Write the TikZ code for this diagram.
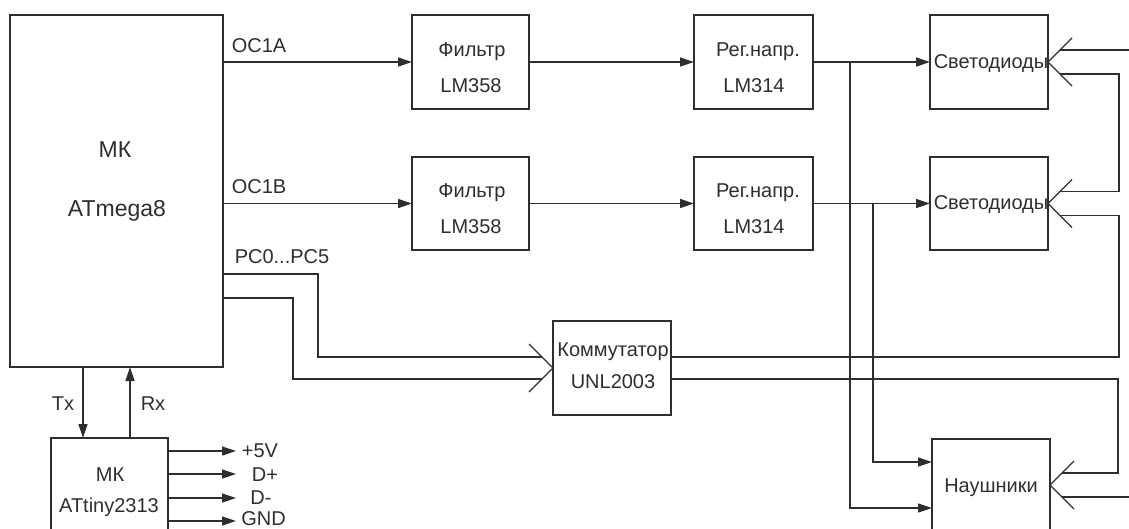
\documentclass[tikz,border=0pt]{standalone}
\usepackage{fontspec}
\setmainfont{Liberation Sans}
\usetikzlibrary{arrows.meta,calc}
\definecolor{ink}{HTML}{2E2E2E}
\begin{document}
\begin{tikzpicture}[x=1pt,y=-1pt,
  line width=1.3pt, draw=ink, text=ink,
  every node/.style={inner sep=0pt, outer sep=0pt},
  blk/.style={draw=ink, rectangle, line width=1.3pt},
  txt/.style={anchor=base, font=\fontsize{20}{24}\selectfont},
  bigtxt/.style={anchor=base, font=\fontsize{23}{27}\selectfont},
  arr/.style={-{Triangle[length=14pt,width=9pt]}}]
\useasboundingbox (0,0) rectangle (1129,528);
\clip (0,0) rectangle (1129,528);

% blocks
\node[blk, minimum width=213pt, minimum height=352pt] (mk) at (116.5,191) {};
\node[blk, minimum width=117pt, minimum height=94pt] (f1) at (470.5,62) {};
\node[blk, minimum width=117pt, minimum height=93pt] (f2) at (470.5,203.5) {};
\node[blk, minimum width=119pt, minimum height=94pt] (r1) at (753.5,62) {};
\node[blk, minimum width=119pt, minimum height=93pt] (r2) at (753.5,203.5) {};
\node[blk, minimum width=118pt, minimum height=94pt] (s1) at (989,62) {};
\node[blk, minimum width=118pt, minimum height=93pt] (s2) at (989,203.5) {};
\node[blk, minimum width=118pt, minimum height=94pt] (km) at (612,368) {};
\node[blk, minimum width=118pt, minimum height=92pt] (hp) at (991,485) {};
\node[blk, minimum width=117pt, minimum height=92pt] (at) at (109.5,484) {};

% texts
\node[bigtxt] (tmk1) at (115,157) {МК};
\node[bigtxt] (tmk2) at (117,216) {ATmega8};
\node[txt] (toca) at (259,52) {OC1A};
\node[txt] (tocb) at (259,193) {OC1B};
\node[txt] (tpc) at (282,263) {PC0...PC5};
\node[txt] (tf1a) at (472,56) {Фильтр};
\node[txt] (tf1b) at (471,92) {LM358};
\node[txt] (tf2a) at (472,197.5) {Фильтр};
\node[txt] (tf2b) at (471,233) {LM358};
\node[txt] (tr1a) at (758,56) {Рег.напр.};
\node[txt] (tr1b) at (754,92) {LM314};
\node[txt] (tr2a) at (758,197.5) {Рег.напр.};
\node[txt] (tr2b) at (754,233) {LM314};
\node[txt] (ts1) at (991,68) {Светодиоды};
\node[txt] (ts2) at (991,209) {Светодиоды};
\node[txt] (tkm1) at (613,356) {Коммутатор};
\node[txt] (tkm2) at (613,388) {UNL2003};
\node[txt] (thp) at (991,492) {Наушники};
\node[txt] (ttx) at (63,410) {Tx};
\node[txt] (trx) at (153,410) {Rx};
\node[txt] (tat1) at (110,481) {МК};
\node[txt] (tat2) at (109,512) {ATtiny2313};
\node[txt] (t5v) at (260,457) {+5V};
\node[txt] (tdp) at (265,481) {D+};
\node[txt] (tdm) at (261,504) {D-};
\node[txt] (tgnd) at (263.5,525) {GND};

% main signal chains
\draw[arr] (mk.east |- f1.west) -- (f1.west);
\draw[arr] (f1.east) -- (r1.west);
\draw[arr] (r1.east) -- (s1.west);
\draw[arr] (mk.east |- f2.west) -- (f2.west);
\draw[arr] (f2.east) -- (r2.west);
\draw[arr] (r2.east) -- (s2.west);

% branches to headphones
\coordinate (b1) at (850,62);
\coordinate (b2) at (873,203.5);
\draw[arr] (b1) |- ($(hp.west)+(0,23)$);
\draw[arr] (b2) |- ($(hp.west)+(0,-23)$);

% MK -> commutator
\coordinate (p1) at (mk.east |- 0,274);
\coordinate (p2) at (mk.east |- 0,298);
\draw (p1) -| (318,357) -- ($(km.west)+(-11,-11)$);
\draw (p2) -| (293,379) -- ($(km.west)+(-11,11)$);
\draw ($(km.west)+(-24,-24)$) -- (km.west) -- ($(km.west)+(-24,24)$);

% commutator outputs
\draw ($(km.east)+(0,-11)$) -| ($(s2.east)+(71,12)$) -- ($(s2.east)+(12,12)$);
\draw ($(km.east)+(0,11)$) -| ($(hp.east)+(68,-12)$) -- ($(hp.east)+(12,-12)$);

% LED / headphone inputs
\draw ($(s1.east)+(24,-24)$) -- (s1.east) -- ($(s1.east)+(24,24)$);
\draw ($(s2.east)+(24,-24)$) -- (s2.east) -- ($(s2.east)+(24,24)$);
\draw ($(hp.east)+(24,-24)$) -- (hp.east) -- ($(hp.east)+(24,24)$);
\draw ($(s1.east)+(12,-12)$) -- ($(s1.east)+(100,-12)$);
\draw ($(s1.east)+(12,12)$) -- ($(s1.east)+(71,12)$) |- ($(s2.east)+(12,-12)$);
\draw ($(hp.east)+(12,12)$) -- ($(hp.east)+(100,12)$);

% Tx / Rx
\coordinate (tx1) at (mk.south -| 83,0);
\coordinate (tx2) at (at.north -| 83,0);
\coordinate (rx1) at (at.north -| 130,0);
\coordinate (rx2) at (mk.south -| 130,0);
\draw[arr] (tx1) -- (tx2);
\draw[arr] (rx1) -- (rx2);

% ATtiny outputs
\coordinate (o1) at (at.east |- 0,451);
\coordinate (o2) at (at.east |- 0,474);
\coordinate (o3) at (at.east |- 0,498);
\coordinate (o4) at (at.east |- 0,521);
\draw[arr] (o1) -- (236,451);
\draw[arr] (o2) -- (236,474);
\draw[arr] (o3) -- (236,498);
\draw[arr] (o4) -- (236,521);
\end{tikzpicture}
\end{document}
